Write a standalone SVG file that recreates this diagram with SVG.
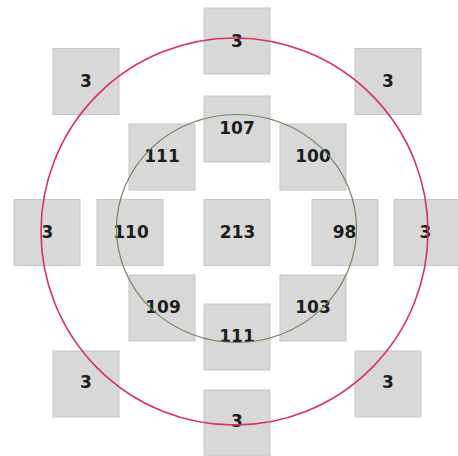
<svg xmlns="http://www.w3.org/2000/svg" width="458" height="456" viewBox="0 0 458 456">
<style>
.box{fill:#d8d8d8;stroke:#c6c6c6;stroke-width:1}
.lbl{font-family:"DejaVu Sans","Liberation Sans",sans-serif;font-size:17px;font-weight:bold;fill:#1c1c1c;text-anchor:middle;dominant-baseline:central}
.ring{fill:none}
</style>
<rect width="458" height="456" fill="#ffffff"/>
<g id="n-top"><rect class="box" x="204" y="8" width="66" height="66"/><text class="lbl" x="237" y="41">3</text></g>
<g id="n-tl"><rect class="box" x="53" y="48.5" width="66" height="66"/><text class="lbl" x="86" y="81">3</text></g>
<g id="n-tr"><rect class="box" x="355" y="48.5" width="66" height="66"/><text class="lbl" x="388" y="81">3</text></g>
<g id="n-107"><rect class="box" x="204" y="96" width="66" height="66"/><text class="lbl" x="237" y="128">107</text></g>
<g id="n-111a"><rect class="box" x="129" y="124" width="66" height="66"/><text class="lbl" x="162" y="156">111</text></g>
<g id="n-100"><rect class="box" x="280" y="124" width="66" height="66"/><text class="lbl" x="313" y="156">100</text></g>
<g id="n-left"><rect class="box" x="14" y="199.5" width="66" height="66"/><text class="lbl" x="47.5" y="232">3</text></g>
<g id="n-110"><rect class="box" x="97" y="199.5" width="66" height="66"/><text class="lbl" x="131" y="232">110</text></g>
<g id="n-213"><rect class="box" x="204" y="199.5" width="66" height="66"/><text class="lbl" x="237.5" y="231.5">213</text></g>
<g id="n-98"><rect class="box" x="312" y="199.5" width="66" height="66"/><text class="lbl" x="344.5" y="232">98</text></g>
<g id="n-right"><rect class="box" x="394" y="199.5" width="66" height="66"/><text class="lbl" x="425.5" y="232">3</text></g>
<g id="n-109"><rect class="box" x="129" y="275" width="66" height="66"/><text class="lbl" x="163" y="307">109</text></g>
<g id="n-103"><rect class="box" x="280" y="275" width="66" height="66"/><text class="lbl" x="313" y="307">103</text></g>
<g id="n-111b"><rect class="box" x="204" y="304" width="66" height="66"/><text class="lbl" x="237" y="336">111</text></g>
<g id="n-bl"><rect class="box" x="53" y="351" width="66" height="66"/><text class="lbl" x="86" y="382">3</text></g>
<g id="n-br"><rect class="box" x="355" y="351" width="66" height="66"/><text class="lbl" x="388" y="382">3</text></g>
<g id="n-bottom"><rect class="box" x="204" y="390" width="66" height="66"/><text class="lbl" x="237" y="421">3</text></g>
<g id="connectors">
<ellipse class="ring" cx="236.5" cy="228.5" rx="120" ry="114" stroke="#6b8b5e" stroke-width="1.2"/>
<circle class="ring" cx="234.5" cy="231.5" r="193.5" stroke="#d9315a" stroke-width="1.6"/>
</g>
</svg>
